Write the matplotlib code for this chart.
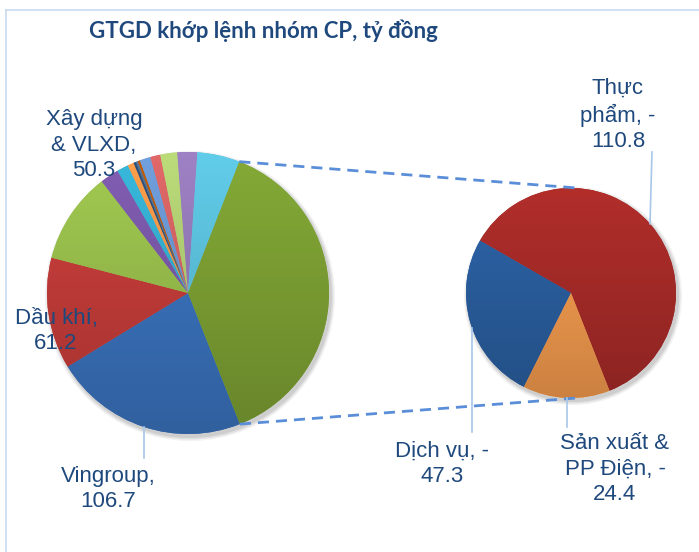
import matplotlib.pyplot as plt
from matplotlib.colors import to_rgb, LinearSegmentedColormap
from matplotlib.patches import Circle
import numpy as np

# left pie, clockwise from Vingroup (small unlabeled groups after Xay dung)
main_names = ['Vingroup', 'Dầu khí', 'Xây dựng\n& VLXD', 'g4', 'g5', 'g6', 'g7', 'g8', 'g9',
              'g10', 'g11', 'g12', 'g13', 'g14']
main_values = [106.7, 61.2, 50.3, 10.3, 6.3, 3.4, 1.3, 1.1, 1.3, 5.9, 5.5, 9.3, 10.9, 23.3]
main_colors = ['#3A72BC', '#C23C39', '#98BE4C', '#7A58A8', '#35ADCF', '#F79646', '#2C4D75',
               '#4E6E90', '#B65708', '#6A96D0', '#D46262', '#B0CE72', '#9479B8', '#5BC0DB']
other_color = '#7C9F33'

# second pie: breakdown of the "other" slice
sub_names = ['Thực phẩm', 'Dịch vụ', 'Sản xuất & PP Điện']
sub_values = [110.8, 47.3, 24.4]
sub_colors = ['#A62B28', '#2A5E9E', '#F39A4E']

main_labels = ['Vingroup,\n106.7', 'Dầu khí,\n61.2', 'Xây dựng\n& VLXD,\n50.3']
sub_labels = ['Thực\nphẩm, -\n110.8', 'Dịch vụ, -\n47.3', 'Sản xuất &\nPP Điện, -\n24.4']

txt_color = '#1F497D'
W, H = 699, 552

fig = plt.figure(figsize=(W / 100, H / 100), dpi=100)
ax = fig.add_axes([0, 0, 1, 1])

c1, r1 = (188, 259), 141
c2, r2 = (571, 259), 105

vals1 = main_values + [sum(sub_values)]
cols1 = main_colors + [other_color]

# soft shadows
for c, r in [(c1, r1), (c2, r2)]:
    for k, a in [(4, 0.05), (2.5, 0.07), (1, 0.08)]:
        ax.add_patch(Circle((c[0] + 2, c[1] - 3), r + k, color='black', alpha=a, lw=0, zorder=0))

w1, _ = ax.pie(vals1, colors=cols1, center=c1, radius=r1, startangle=90 - 158.4,
               counterclock=False, wedgeprops=dict(linewidth=0))
w2, _ = ax.pie(sub_values, colors=sub_colors, center=c2, radius=r2, startangle=291.5,
               counterclock=True, wedgeprops=dict(linewidth=0))


def shade(wedges, colors, c, r):
    grad = np.linspace(0, 1, 256).reshape(-1, 1)
    for w, col in zip(wedges, colors):
        rgb = np.array(to_rgb(col))
        cmap = LinearSegmentedColormap.from_list('g', [np.clip(rgb * 0.84, 0, 1),
                                                       np.clip(rgb * 1.07, 0, 1)])
        im = ax.imshow(grad, cmap=cmap, origin='lower', aspect='auto', zorder=2,
                       extent=(c[0] - r, c[0] + r, c[1] - r, c[1] + r))
        im.set_clip_path(w)


shade(w1, cols1, c1, r1)
shade(w2, sub_colors, c2, r2)

# dashed connectors from the "other" slice to the second pie
g = w1[-1]
for th, yy in [(g.theta2, c2[1] + r2), (g.theta1, c2[1] - r2)]:
    p = (c1[0] + r1 * np.cos(np.radians(th)), c1[1] + r1 * np.sin(np.radians(th)))
    ax.plot([p[0], c2[0] + 6], [p[1], yy], ls=(0, (4, 2.5)), color='#5B8ED8', lw=2, zorder=3)


def edge(c, r, x, side):
    return c[1] + side * np.sqrt(r ** 2 - (x - c[0]) ** 2)


lc = '#A7C7EA'
# leader lines
ax.plot([144, 144], [edge(c1, r1, 144, -1), 94], color=lc, lw=1.2, zorder=3)
ax.plot([472, 472], [edge(c2, r2, 472, -1), 120], color=lc, lw=1.2, zorder=3)
ax.plot([567, 567], [edge(c2, r2, 567, -1), 125], color=lc, lw=1.2, zorder=3)
ax.plot([650, 652], [edge(c2, r2, 650, 1), 400], color=lc, lw=1.2, zorder=3)

fs = 16
fam = ['Liberation Sans', 'DejaVu Sans']
for txt, (x, y) in zip(main_labels, [(108, 63), (56, 221), (94, 407)]):
    ax.text(x, y, txt, ha='center', va='center', multialignment='center', fontsize=fs,
            color=txt_color, family=fam, linespacing=1.28, zorder=5)
for txt, (x, y) in zip(sub_labels, [(618, 437), (442, 88), (615, 83)]):
    ax.text(x, y, txt, ha='center', va='center', multialignment='center', fontsize=fs,
            color=txt_color, family=fam, linespacing=1.28, zorder=5)

ax.text(263, 521, 'GTGD khớp lệnh nhóm CP, tỷ đồng', ha='center', va='center', fontsize=16,
        fontweight='bold', color=txt_color, family=['Lato', 'DejaVu Sans'])

# chart area border (top and left visible)
ax.plot([6, W], [542, 542], color='#C9DBF0', lw=1.2, zorder=1)
ax.plot([6, 6], [0, 542], color='#C9DBF0', lw=1.2, zorder=1)

ax.set_xlim(0, W)
ax.set_ylim(0, H)
ax.set_aspect('auto')
ax.axis('off')

fig.savefig('out.png', dpi=100)
